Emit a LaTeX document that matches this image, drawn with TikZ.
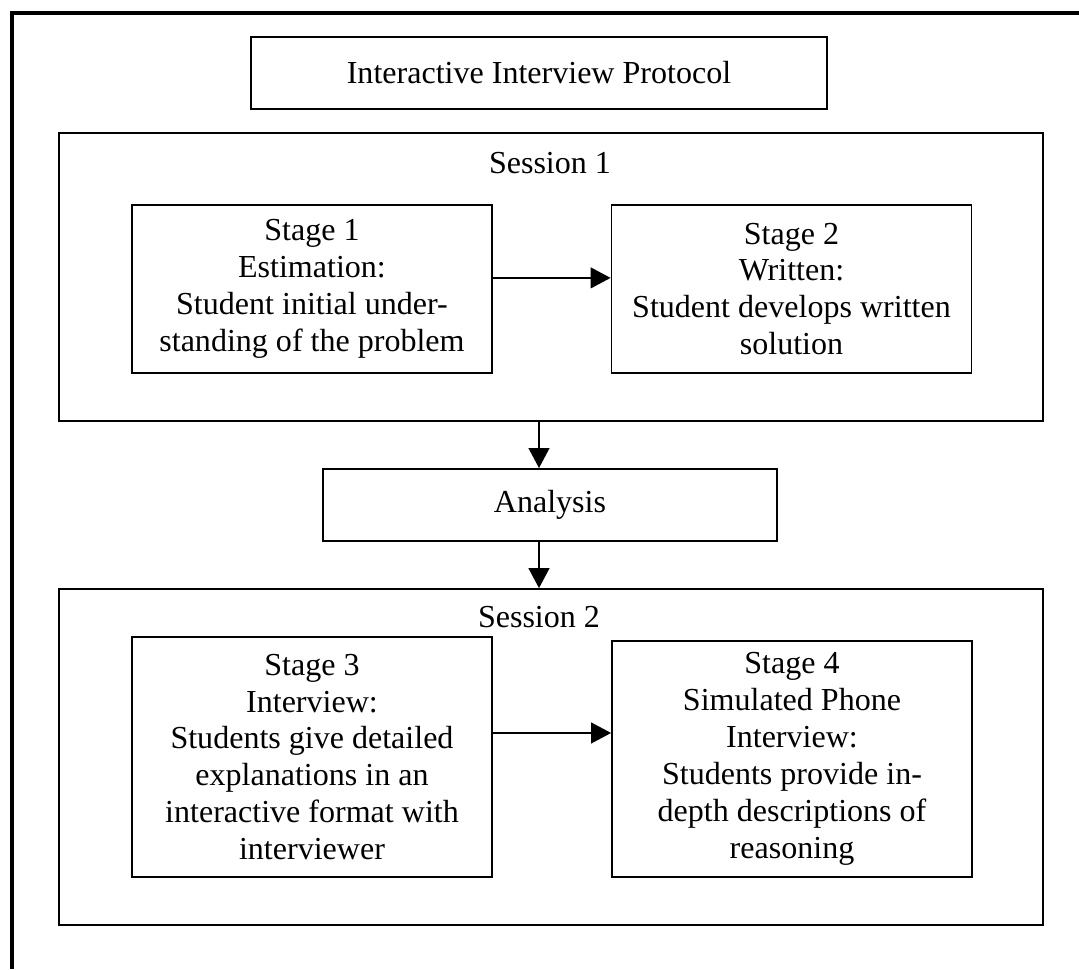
\documentclass[tikz,border=0pt]{standalone}
\usepackage{fontspec}
\setmainfont{Liberation Serif}
\usetikzlibrary{arrows.meta, positioning, calc}

\begin{document}
\begin{tikzpicture}[x=0.387pt, y=-0.387pt,
    font=\fontsize{12.4}{14.3}\selectfont,
    box/.style={rectangle, draw=black, line width=0.7pt, inner sep=0pt, align=center},
    sessbox/.style={rectangle, draw=black, line width=0.7pt, inner sep=0pt, minimum width=380.8pt},
    stagebox/.style={box, minimum width=139.3pt},
    arrow/.style={-{Triangle[length=7.7pt, width=8pt]}, line width=0.7pt}
]
    \useasboundingbox (0,0) rectangle (1079,969);
    % frame, top and left side only
    \draw[line width=1.6pt] (1079,13) -- (12,13) -- (12,969);

    \node[box, minimum width=222.9pt, minimum height=27.9pt] (title) at (539,73) {Interactive Interview Protocol};

    % session 1
    \node[sessbox, minimum height=111.5pt] (sess1) at (551,277) {};
    \node (sess1lbl) at (550,163) {Session 1};
    \node[stagebox, minimum height=65pt] (st1) at (312,289) {Stage 1\\Estimation:\\Student initial under-\\standing of the problem};
    \node[stagebox, minimum height=65pt] (st2) at (791.5,289) {Stage 2\\Written:\\Student develops written\\solution};

    \node[box, minimum width=175.7pt, minimum height=27.9pt] (ana) at (550,505) {Analysis};

    % session 2
    \node[sessbox, minimum height=130pt] (sess2) at (551,757) {};
    \node (sess2lbl) at (539,617) {Session 2};
    \node[stagebox, minimum height=92.9pt] (st3) at (312,757) {Stage 3\\Interview:\\Students give detailed\\explanations in an\\interactive format with\\interviewer};
    \node[stagebox, minimum height=91.3pt] (st4) at (792,759) {Stage 4\\Simulated Phone\\Interview:\\Students provide in-\\depth descriptions of\\reasoning};

    \draw [arrow] ([yshift=4.3pt]st1.east) coordinate (a12) -- (a12 -| st2.west);
    \draw [arrow] (sess1.south -| title.center) -- (ana.north -| title.center);
    \draw [arrow] (ana.south -| title.center) -- (sess2.north -| title.center);
    \draw [arrow] ([yshift=9.3pt]st3.east) coordinate (a34) -- (a34 -| st4.west);
\end{tikzpicture}
\end{document}
